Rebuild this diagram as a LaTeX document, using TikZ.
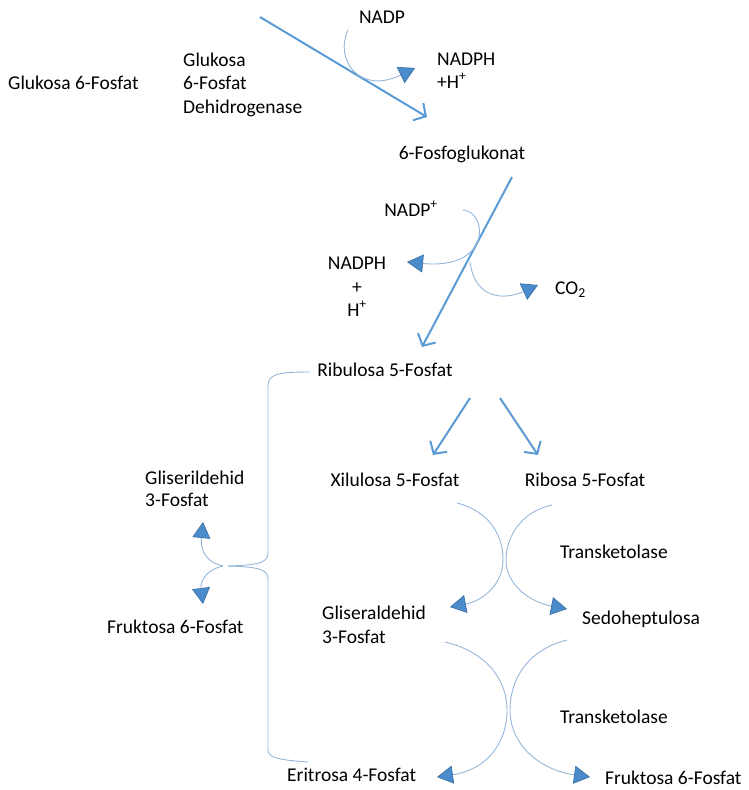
\documentclass[tikz,border=0pt]{standalone}
\usepackage{fontspec}
\setmainfont{Carlito}
\usetikzlibrary{arrows.meta}
\definecolor{mainblue}{HTML}{5B9BD5}
\definecolor{curveblue}{HTML}{95B7DB}
\definecolor{trifill}{HTML}{4A8BCB}
\definecolor{triedge}{HTML}{3A6E9E}
\tikzset{
  lbl/.style={inner sep=0pt, font=\fontsize{19.5}{23}\selectfont, text=black},
  mainarrow/.style={draw=mainblue, line width=2pt, -{Straight Barb[length=9pt,width=20pt]}},
  thincurve/.style={draw=curveblue, line width=0.9pt},
  tricurve/.style={thincurve, -{Triangle[length=16pt,width=18pt,fill=trifill,color=triedge,line width=0.6pt]}}
}
\begin{document}
\begin{tikzpicture}[x=1pt,y=-1pt]
\useasboundingbox (0,0) rectangle (748,790);
% texts
\node[lbl,anchor=base west] (g6p) at (8,89) {Glukosa 6-Fosfat};
\node[lbl,anchor=base west] (enz1) at (183,66) {Glukosa};
\node[lbl,anchor=base west] (enz2) at (183,89) {6-Fosfat};
\node[lbl,anchor=base west] (enz3) at (183,113) {Dehidrogenase};
\node[lbl,anchor=base] (nadp1) at (382,23) {NADP};
\node[lbl,anchor=base west] (nadph1) at (437,65) {NADPH};
\node[lbl,anchor=base west] (hplus1) at (437,88) {+H\textsuperscript{+}};
\node[lbl,anchor=base] (fg) at (462,159) {6-Fosfoglukonat};
\node[lbl,anchor=base] (nadp2) at (411,216) {NADP\textsuperscript{+}};
\node[lbl,anchor=base] (nadph2) at (357,269) {NADPH};
\node[lbl,anchor=base] (plus2) at (357,293) {+};
\node[lbl,anchor=base] (hplus2) at (357,316) {H\textsuperscript{+}};
\node[lbl,anchor=base west] (co2) at (555,294) {CO\textsubscript{2}};
\node[lbl,anchor=base] (ru5p) at (385,376) {Ribulosa 5-Fosfat};
\node[lbl,anchor=base] (xu5p) at (395,486) {Xilulosa 5-Fosfat};
\node[lbl,anchor=base] (r5p) at (585,486) {Ribosa 5-Fosfat};
\node[lbl,anchor=base west] (gl1a) at (145,484) {Gliserildehid};
\node[lbl,anchor=base west] (gl1b) at (145,506) {3-Fosfat};
\node[lbl,anchor=base west] (f6pl) at (107,633) {Fruktosa 6-Fosfat};
\node[lbl,anchor=base west] (tk1) at (560,558) {Transketolase};
\node[lbl,anchor=base west] (ga3a) at (322,619) {Gliseraldehid};
\node[lbl,anchor=base west] (ga3b) at (322,643) {3-Fosfat};
\node[lbl,anchor=base west] (s7p) at (582,624) {Sedoheptulosa};
\node[lbl,anchor=base west] (tk2) at (560,723) {Transketolase};
\node[lbl,anchor=base west] (e4p) at (287,781) {Eritrosa 4-Fosfat};
\node[lbl,anchor=base west] (f6pr) at (605,784) {Fruktosa 6-Fosfat};
% connector end points
\coordinate (m1s) at (260,17);
\coordinate (m1e) at (427,117);
\coordinate (m2s) at (512,177);
\coordinate (m2e) at (422,347);
\coordinate (c1s) at (348,30);
\coordinate (c1e) at (415,68);
\coordinate (c2s) at (463,210);
\coordinate (c2e) at (407,262);
\coordinate (c3s) at (470,262);
\coordinate (c3e) at (538,285);
\coordinate (r1s) at (470,398);
\coordinate (r1e) at (433,455);
\coordinate (r2s) at (500,398);
\coordinate (r2e) at (538,455);
\coordinate (bt) at (310,372);
\coordinate (bm) at (228,566);
\coordinate (bb) at (308,762);
\coordinate (lm) at (223,566);
\coordinate (lu) at (203,522);
\coordinate (ld) at (203,604);
\coordinate (as) at (457,503);
\coordinate (ae) at (450,607);
\coordinate (bs) at (552,505);
\coordinate (be) at (567,609);
\coordinate (cs) at (445,642);
\coordinate (ce) at (437,777);
\coordinate (ds) at (567,640);
\coordinate (de) at (590,777);
% main arrows
\draw[mainarrow] (m1s) -- (m1e);
\draw[mainarrow] (m2s) -- (m2e);
\draw[mainarrow] (r1s) -- (r1e);
\draw[mainarrow] (r2s) -- (r2e);
% cofactor curves
\draw[tricurve] (c1s) .. controls (334,60) and (360,95) .. (c1e);
\draw[tricurve] (c2s) .. controls (488,212) and (492,270) .. (c2e);
\draw[tricurve] (c3s) .. controls (475,300) and (505,300) .. (c3e);
% bracket
\draw[thincurve] (bt) .. controls (278,372) and (268,374) .. (268,386) -- (268,552) .. controls (268,562) and (262,565) .. (bm);
\draw[thincurve] (bm) .. controls (262,567) and (268,570) .. (268,580) -- (268,750) .. controls (268,758) and (280,760) .. (bb);
\draw[tricurve] (lm) .. controls (208,563) and (200,552) .. (lu);
\draw[tricurve] (lm) .. controls (208,569) and (200,580) .. (ld);
% transketolase curves
\draw[tricurve] (as) .. controls (492,512) and (503,538) .. (503,560) .. controls (503,585) and (482,601) .. (ae);
\draw[tricurve] (bs) .. controls (520,512) and (506,538) .. (506,560) .. controls (506,585) and (530,602) .. (be);
\draw[tricurve] (cs) .. controls (487,652) and (507,680) .. (507,710) .. controls (507,745) and (485,770) .. (ce);
\draw[tricurve] (ds) .. controls (527,650) and (510,680) .. (510,710) .. controls (510,745) and (540,770) .. (de);
\end{tikzpicture}
\end{document}
